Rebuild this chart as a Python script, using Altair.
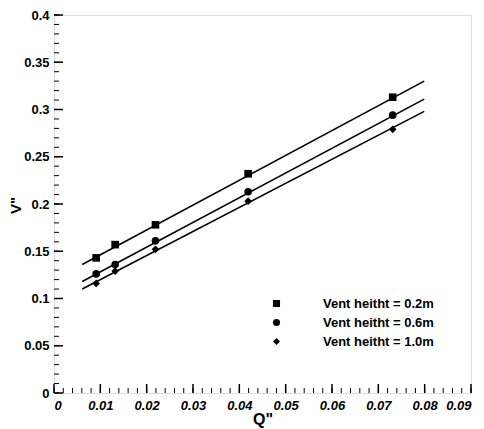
import altair as alt
import pandas as pd

series = ["Vent heitht = 0.2m", "Vent heitht = 0.6m", "Vent heitht = 1.0m"]
q_points = [0.0091, 0.0132, 0.0219, 0.0419, 0.0731]
v_02 = [0.143, 0.157, 0.178, 0.232, 0.313]
v_06 = [0.126, 0.136, 0.161, 0.213, 0.294]
v_10 = [0.116, 0.129, 0.152, 0.203, 0.279]

fit_q = [0.0061, 0.0799]
fit_02 = [0.136, 0.330]
fit_06 = [0.118, 0.311]
fit_10 = [0.110, 0.298]

x_major = [0, 0.01, 0.02, 0.03, 0.04, 0.05, 0.06, 0.07, 0.08, 0.09]
y_major = [0, 0.05, 0.1, 0.15, 0.2, 0.25, 0.3, 0.35, 0.4]
x_minor = [round(i * 0.002, 4) for i in range(46)]
y_minor = [round(i * 0.01, 3) for i in range(41)]

pts = pd.DataFrame({
    "Q": q_points * 3,
    "V": v_02 + v_06 + v_10,
    "s": [series[0]] * 5 + [series[1]] * 5 + [series[2]] * 5,
})
fits = pd.DataFrame({
    "Q": fit_q * 3,
    "V": fit_02 + fit_06 + fit_10,
    "s": [series[0]] * 2 + [series[1]] * 2 + [series[2]] * 2,
})

W, H = 417, 378
xs = alt.Scale(domain=[0, 0.09], nice=False, zero=False)
ys = alt.Scale(domain=[0, 0.4], nice=False, zero=False)

xaxis = alt.Axis(title="Q\"", values=x_major, format="~g", tickSize=0, domain=False,
                 grid=False, labelFont="Liberation Sans", labelFontSize=13,
                 labelFontWeight="bold", labelFontStyle="italic", labelColor="black",
                 labelPadding=6, titleFont="Liberation Sans", titleFontSize=16,
                 titleFontWeight="bold", titleColor="black", titleBaseline="top",
                 titleY=18, labelOverlap=False)
yaxis = alt.Axis(title="V\"", values=y_major, format="~g", tickSize=0, domain=False,
                 grid=False, labelFont="Liberation Sans", labelFontSize=13,
                 labelFontWeight="bold", labelColor="black", labelPadding=5,
                 titleFont="Liberation Sans", titleFontSize=15, titleFontWeight="bold",
                 titleColor="black", titleX=-31, titleY=190, titleBaseline="bottom",
                 labelOverlap=False)

shape_scale = alt.Scale(domain=series, range=["square", "circle", "diamond"])

lines = alt.Chart(fits).mark_line(color="black", strokeWidth=1.6).encode(
    x=alt.X("Q:Q", scale=xs, axis=xaxis),
    y=alt.Y("V:Q", scale=ys, axis=yaxis),
    detail="s:N",
)

points = alt.Chart(pts).mark_point(filled=True, color="black", opacity=1, size=58).encode(
    x=alt.X("Q:Q", scale=xs),
    y=alt.Y("V:Q", scale=ys),
    shape=alt.Shape("s:N", scale=shape_scale, legend=alt.Legend(
        title=None, orient="none", legendX=216, legendY=282, padding=0,
        labelFont="Liberation Sans", labelFontSize=13, labelFontWeight="bold",
        labelColor="black", labelOffset=40, rowPadding=4, symbolSize=50,
        symbolFillColor="black", symbolStrokeColor="black", symbolType="circle")),
)

ymin = alt.Chart(pd.DataFrame({"v": y_minor})).mark_rule(color="black", strokeWidth=1).encode(
    y=alt.Y("v:Q", scale=ys), x=alt.value(0), x2=alt.value(5))
ymaj = alt.Chart(pd.DataFrame({"v": y_major})).mark_rule(color="black", strokeWidth=1.5).encode(
    y=alt.Y("v:Q", scale=ys), x=alt.value(0), x2=alt.value(9))
xmin = alt.Chart(pd.DataFrame({"v": x_minor})).mark_rule(color="black", strokeWidth=1).encode(
    x=alt.X("v:Q", scale=xs), y=alt.value(H), y2=alt.value(H - 5))
xmaj = alt.Chart(pd.DataFrame({"v": x_major})).mark_rule(color="black", strokeWidth=1.5).encode(
    x=alt.X("v:Q", scale=xs), y=alt.value(H), y2=alt.value(H - 9))

chart = alt.layer(lines, points, ymin, ymaj, xmin, xmaj).properties(
    width=W, height=H,
    autosize=alt.AutoSizeParams(type="none"),
    padding={"left": 46, "top": 7, "right": 5, "bottom": 36},
).configure_view(stroke="black", strokeWidth=2).configure(background="white")

chart.save("out.html", embed_options={"renderer": "svg", "actions": False})
